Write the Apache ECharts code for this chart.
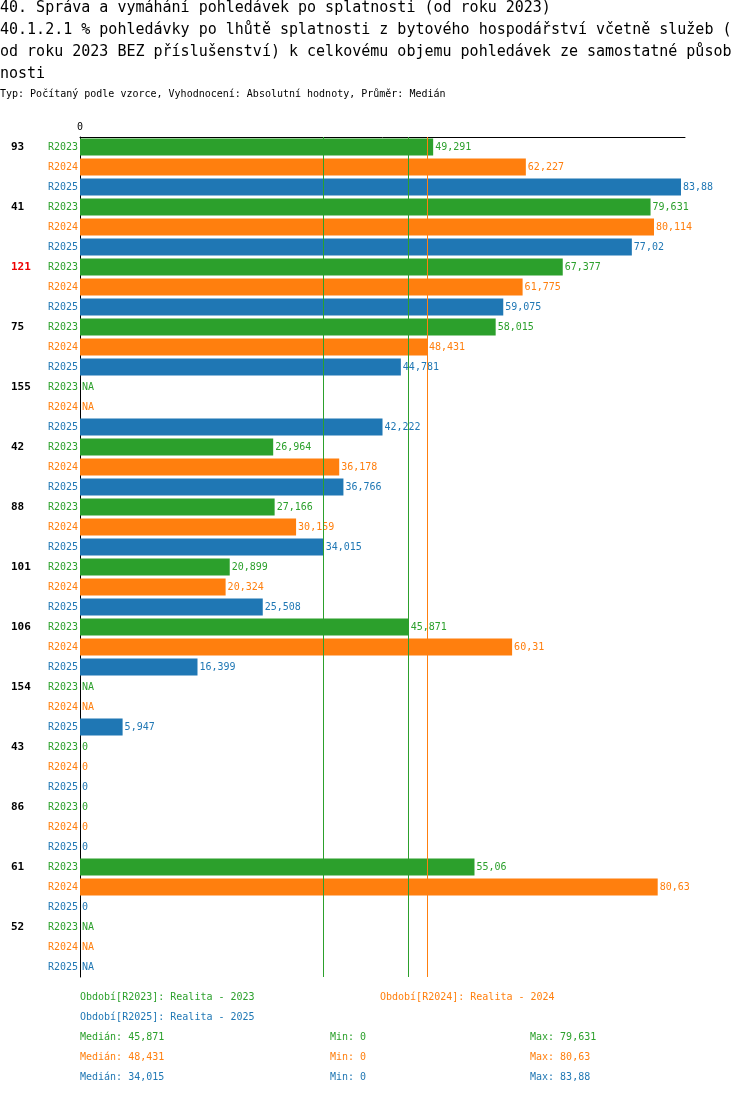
<!DOCTYPE html>
<html><head><meta charset="utf-8">
<script src="https://cdn.jsdelivr.net/npm/echarts@6/dist/echarts.min.js"></script>
<style>html,body{margin:0;padding:0;background:#fff}#c{width:750px;height:1096px}</style>
</head><body><div id="c"></div>
<script>
const groups = ['93','41','121','75','155','42','88','101','106','154','43','86','61','52'];
const years = ['R2023','R2024','R2025'];
const v2023 = [49.291,79.631,67.377,58.015,null,26.964,27.166,20.899,45.871,null,0,0,55.06,null];
const v2024 = [62.227,80.114,61.775,48.431,null,36.178,30.159,20.324,60.31,null,0,0,80.63,null];
const v2025 = [83.88,77.02,59.075,44.781,42.222,36.766,34.015,25.508,16.399,5.947,0,0,0,null];
const medians = [45.871,48.431,34.015];
const mins = [0,0,0];
const maxs = [79.631,80.63,83.88];
const colors = ['#2ca02c','#ff7f0e','#1f77b4'];
const font = '"DejaVu Sans Mono", monospace';
const fmt = v => v === null ? 'NA' : String(v).replace('.', ',');

const cats = [], data = [];
groups.forEach((g, i) => {
  [v2023, v2024, v2025].forEach((arr, j) => {
    cats.push({g: j === 0 ? g : '', y: j});
    const v = arr[i];
    data.push({value: v === null ? 0 : v, na: v === null, itemStyle: {color: colors[j]},
      label: {color: colors[j]}});
  });
});

const chart = echarts.init(document.getElementById('c'), null, {renderer: 'canvas'});
const txt = (x, y, t, c, s, w) => ({type: 'text', x, y, style: {text: t, fill: c || '#000', font: (w || 'normal') + ' ' + (s || 10) + 'px ' + font}});
const gr = [
  txt(0, 1, '40. Správa a vymáhání pohledávek po splatnosti (od roku 2023)', '#000', 15),
  txt(0, 23, '40.1.2.1 % pohledávky po lhůtě splatnosti z bytového hospodářství včetně služeb (', '#000', 15),
  txt(0, 45, 'od roku 2023 BEZ příslušenství) k celkovému objemu pohledávek ze samostatné působ', '#000', 15),
  txt(0, 67, 'nosti', '#000', 15),
  txt(0, 89, 'Typ: Počítaný podle vzorce, Vyhodnocení: Absolutní hodnoty, Průměr: Medián', '#000', 10),
  txt(80, 992, 'Období[R2023]: Realita - 2023', colors[0]),
  txt(380, 992, 'Období[R2024]: Realita - 2024', colors[1]),
  txt(80, 1012, 'Období[R2025]: Realita - 2025', colors[2])
];
for (let j = 0; j < 3; j++) {
  const y = 1032 + j * 20;
  gr.push(txt(80, y, 'Medián: ' + fmt(medians[j]), colors[j]));
  gr.push(txt(330, y, 'Min: ' + fmt(mins[j]), colors[j]));
  gr.push(txt(530, y, 'Max: ' + fmt(maxs[j]), colors[j]));
}

chart.setOption({
  animation: false,
  grid: {left: 80, top: 137, width: 605, height: 840},
  xAxis: {type: 'value', position: 'top', min: 0, max: 84.44, splitLine: {show: false},
    axisLine: {show: true, lineStyle: {color: '#000'}}, axisTick: {show: false},
    axisLabel: {formatter: v => v === 0 ? '0' : '', color: '#000', fontFamily: font, fontSize: 10, margin: 5}},
  yAxis: {type: 'category', inverse: true, data: cats.map((c, i) => i),
    axisLine: {show: true, lineStyle: {color: '#000'}}, axisTick: {show: false},
    axisLabel: {interval: 0, margin: 2, fontFamily: font,
      formatter: i => '{grp' + (cats[i].g === '121' ? 'r' : '') + '|' + cats[i].g + '}{y' + cats[i].y + '|' + years[cats[i].y] + '}',
      rich: {
        grp: {width: 37, align: 'left', fontWeight: 'bold', fontSize: 11, color: '#000', fontFamily: font, padding: [0,0,0,0]},
        grpr: {width: 37, align: 'left', fontWeight: 'bold', fontSize: 11, color: '#e00', fontFamily: font},
        y0: {color: colors[0], fontSize: 10, fontFamily: font},
        y1: {color: colors[1], fontSize: 10, fontFamily: font},
        y2: {color: colors[2], fontSize: 10, fontFamily: font}
      }}},
  series: [{type: 'bar', data, barWidth: 17,
    label: {show: true, position: 'right', distance: 2, fontFamily: font, fontSize: 10,
      formatter: p => p.data.na ? 'NA' : fmt(p.value)},
    markLine: {silent: true, symbol: 'none', label: {show: false},
      data: medians.map((m, j) => ({xAxis: m, lineStyle: {color: j === 2 ? colors[0] : colors[j], type: 'solid', width: 1}}))}
  }],
  graphic: gr
});
</script></body></html>
